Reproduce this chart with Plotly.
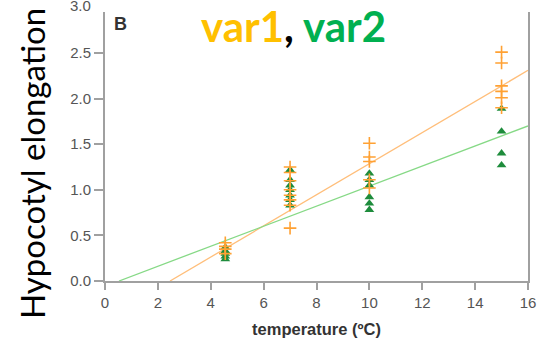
import plotly.graph_objects as go

# ---- data ----
var1_x = [4.55, 4.55, 4.55, 4.55,
          7.0, 7.0, 7.0, 7.0, 7.0, 7.0, 7.0, 7.0,
          10.0, 10.0, 10.0, 10.0, 10.0,
          15.0, 15.0, 15.0, 15.0, 15.0, 15.0]
var1_y = [0.42, 0.38, 0.35, 0.30,
          1.25, 1.19, 1.10, 1.00, 0.94, 0.89, 0.83, 0.58,
          1.51, 1.36, 1.31, 1.11, 1.02,
          2.51, 2.39, 2.14, 2.08, 2.01, 1.90]
var2_x = [4.55, 4.55, 4.55, 4.55, 4.55,
          7.0, 7.0, 7.0, 7.0, 7.0, 7.0, 7.0,
          10.0, 10.0, 10.0, 10.0, 10.0, 10.0,
          15.0, 15.0, 15.0, 15.0]
var2_y = [0.37, 0.33, 0.30, 0.27, 0.24,
          1.22, 1.11, 1.05, 1.00, 0.94, 0.89, 0.83,
          1.18, 1.11, 1.05, 0.92, 0.85, 0.78,
          1.89, 1.64, 1.40, 1.27]
fit1_x = [2.46, 16.0]
fit1_y = [0.0, 2.31]
fit2_x = [0.53, 16.0]
fit2_y = [0.0, 1.70]
x_ticks = [0, 2, 4, 6, 8, 10, 12, 14, 16]
y_ticks = [0.0, 0.5, 1.0, 1.5, 2.0, 2.5]

ORANGE = "#FFA133"
GREEN = "#1E8C3C"

fig = go.Figure()
fig.add_trace(go.Scatter(x=fit1_x, y=fit1_y, mode="lines",
                         line=dict(color="#FFBE7A", width=1.3), showlegend=False))
fig.add_trace(go.Scatter(x=fit2_x, y=fit2_y, mode="lines",
                         line=dict(color="#86D986", width=1.3), showlegend=False))
fig.add_trace(go.Scatter(x=var2_x, y=var2_y, mode="markers",
                         marker=dict(symbol="triangle-up", size=8.5, color=GREEN),
                         showlegend=False))
fig.add_trace(go.Scatter(x=var1_x, y=var1_y, mode="markers",
                         marker=dict(symbol="cross-thin-open", size=9, color=ORANGE,
                                     line=dict(color=ORANGE, width=1.6)),
                         showlegend=False))

axis_font = dict(family="Liberation Sans, Arial", size=15, color="#555555")
fig.update_xaxes(range=[0, 16], tickvals=x_ticks, ticks="outside", ticklen=7,
                 tickcolor="#A0A0A0", tickwidth=1.5, showline=True, automargin=False,
                 linecolor="#A0A0A0", linewidth=2, showgrid=False, zeroline=False,
                 tickfont=axis_font,
                 title=dict(text="<b>temperature (ºC)</b>", standoff=13,
                            font=dict(family="Liberation Sans, Arial", size=16.5, color="#333333")))
fig.update_yaxes(range=[0, 2.95], tickvals=y_ticks, tickformat=".1f", ticks="outside",
                 ticklen=9, tickcolor="#A0A0A0", tickwidth=1.5, showline=True, automargin=False,
                 linecolor="#A0A0A0", linewidth=2, mirror=True, showgrid=False,
                 zeroline=False, tickfont=axis_font)

fig.add_annotation(text="Hypocotyl elongation", textangle=-90, xref="paper", yref="paper",
                   x=(32 - 105) / 423, xanchor="center", y=(281 - 164) / 269, yanchor="middle",
                   showarrow=False, font=dict(family="Lato", size=33, color="#000000"))
fig.add_annotation(text="3.0", xref="paper", yref="paper", x=0, y=1.0, xanchor="right",
                   yanchor="middle", xshift=-12, yshift=7, showarrow=False, font=axis_font)
fig.add_annotation(text="<b>B</b>", xref="paper", yref="paper", x=(120 - 105) / 423, y=1.0,
                   xanchor="center", yanchor="middle", yshift=-12, showarrow=False,
                   font=dict(family="Liberation Sans, Arial", size=18, color="#333333"))
fig.add_annotation(
    text="<b><span style='color:#FFC000'>var1</span>, <span style='color:#00B050'>var2</span></b>",
    xref="paper", yref="paper", x=(293 - 105) / 423, y=1.0, xanchor="center",
    yanchor="middle", yshift=-14, showarrow=False,
    font=dict(family="Lato", size=42, color="#000000"))

fig.update_layout(width=549, height=339, margin=dict(l=105, r=21, t=12, b=58),
                  plot_bgcolor="white", paper_bgcolor="white")
fig.write_html("out.html")
